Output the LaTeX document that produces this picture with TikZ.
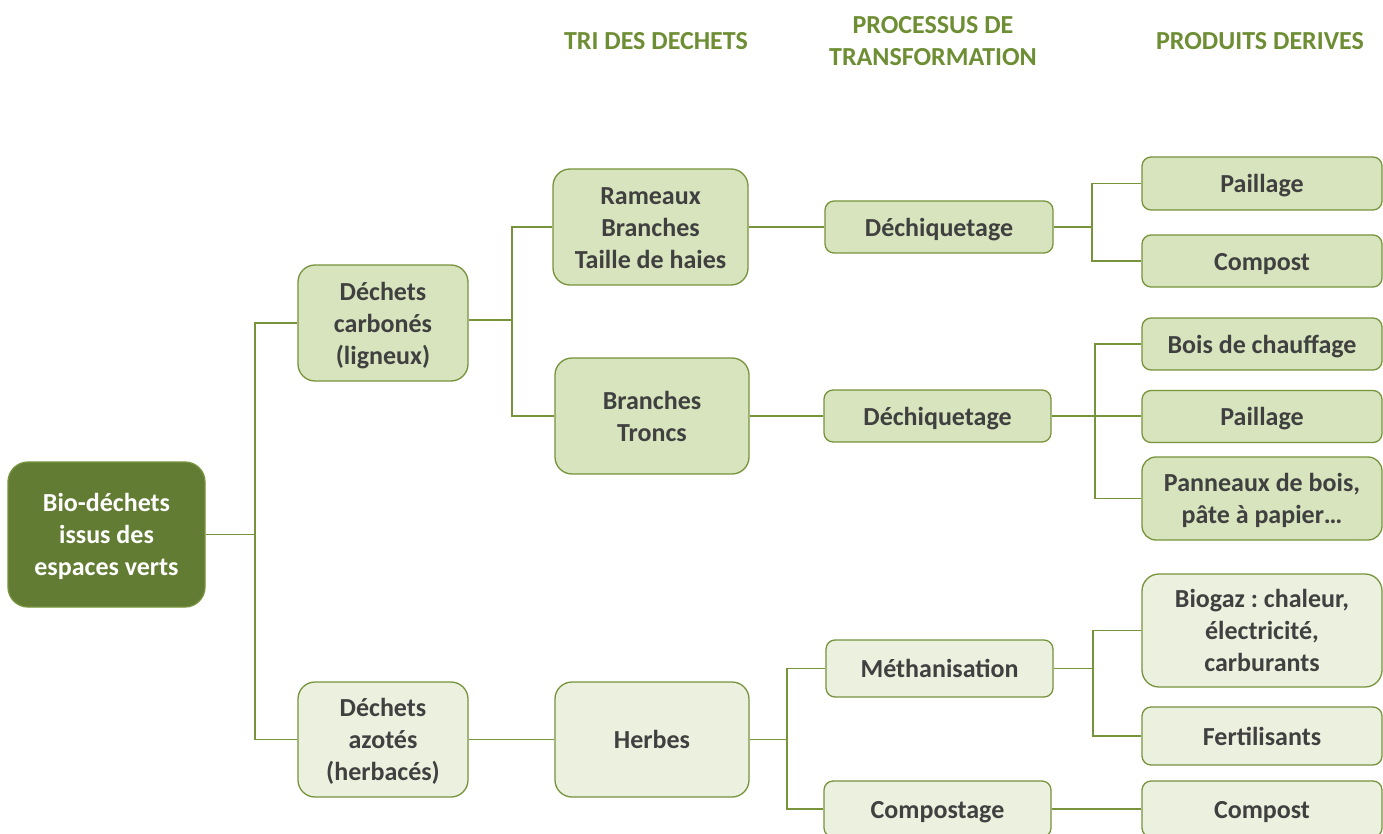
\documentclass[tikz,border=0pt]{standalone}
\usepackage{fontspec}
\setmainfont{Carlito}
\frenchspacing
\definecolor{rootfill}{HTML}{637C33}
\definecolor{darkfill}{HTML}{D7E4BD}
\definecolor{lightfill}{HTML}{EBF1DE}
\definecolor{edge}{HTML}{77933C}
\definecolor{txt}{HTML}{404040}
\definecolor{hdr}{HTML}{6E8E34}
\newcommand\boxtext[1]{\raisebox{-3pt}[\height][\depth]{\begin{tabular}{@{}c@{}}#1\end{tabular}}}
\tikzset{
  box/.style={draw=edge, line width=1.3pt, align=center, inner sep=0pt,
    font=\fontsize{26}{32}\selectfont\bfseries, text=txt},
  bigbox/.style={box, rounded corners=17pt},
  smallbox/.style={box, rounded corners=9pt},
  dk/.style={fill=darkfill},
  lt/.style={fill=lightfill},
  conn/.style={draw=edge, line width=1.4pt},
  header/.style={align=center, text=hdr, font=\fontsize{26}{32}\selectfont\bfseries},
}
\begin{document}
\begin{tikzpicture}[x=1pt,y=-1pt]
\clip (0,0) rectangle (1383,834);
\fill[white] (0,0) rectangle (1383,834);
% headers
\node[header] (h1) at (656,40) {\boxtext{TRI DES DECHETS}};
\node[header] (h2) at (933,40) {\boxtext{PROCESSUS DE\\TRANSFORMATION}};
\node[header] (h3) at (1260,40) {\boxtext{PRODUITS DERIVES}};
% nodes
\node[bigbox, fill=rootfill, text=white, rounded corners=20pt, minimum width=197pt, minimum height=145pt] (root) at (106.5,534.5) {\boxtext{Bio-déchets\\issus des\\espaces verts}};
\node[bigbox, dk, minimum width=170pt, minimum height=116pt] (carb) at (383,323) {\boxtext{Déchets\\carbonés\\(ligneux)}};
\node[bigbox, lt, minimum width=170pt, minimum height=115pt] (azot) at (383,739.5) {\boxtext{Déchets\\azotés\\(herbacés)}};
\node[bigbox, dk, minimum width=195pt, minimum height=116pt] (ram) at (650.5,227) {\boxtext{Rameaux\\Branches\\Taille de haies}};
\node[bigbox, dk, minimum width=194pt, minimum height=116pt] (tronc) at (652,416) {\boxtext{Branches\\Troncs}};
\node[bigbox, lt, minimum width=194pt, minimum height=115pt] (herb) at (652,739.5) {\boxtext{Herbes}};
\node[smallbox, dk, minimum width=228pt, minimum height=52pt] (dech1) at (939,227) {\boxtext{Déchiquetage}};
\node[smallbox, dk, minimum width=227pt, minimum height=52pt] (dech2) at (937.5,416) {\boxtext{Déchiquetage}};
\node[smallbox, lt, minimum width=227pt, minimum height=57pt] (meth) at (939.5,668.5) {\boxtext{Méthanisation}};
\node[smallbox, lt, minimum width=227pt, minimum height=56pt] (compg) at (937.5,809) {\boxtext{Compostage}};
\node[smallbox, dk, minimum width=240pt, minimum height=53pt] (pail1) at (1262,183.5) {\boxtext{Paillage}};
\node[smallbox, dk, minimum width=240pt, minimum height=52pt] (comp1) at (1262,261) {\boxtext{Compost}};
\node[smallbox, dk, minimum width=240pt, minimum height=52pt] (bois) at (1262,344) {\boxtext{Bois de chauffage}};
\node[smallbox, dk, minimum width=240pt, minimum height=52pt] (pail2) at (1262,416.5) {\boxtext{Paillage}};
\node[bigbox, dk, rounded corners=14pt, minimum width=240pt, minimum height=83pt] (pann) at (1262,498.5) {\boxtext{Panneaux de bois,\\pâte à papier…}};
\node[bigbox, lt, minimum width=240pt, minimum height=113pt] (biog) at (1262,630.5) {\boxtext{Biogaz : chaleur,\\électricité,\\carburants}};
\node[smallbox, lt, minimum width=240pt, minimum height=58pt] (fert) at (1262,736) {\boxtext{Fertilisants}};
\node[smallbox, lt, minimum width=240pt, minimum height=56pt] (comp3) at (1262,809) {\boxtext{Compost}};
% junctions
\coordinate (j1) at (255,534.5);
\coordinate (j2) at (512,320);
\coordinate (j3) at (787,739.5);
\coordinate (j4) at (1092,227);
\coordinate (j5) at (1095,416);
\coordinate (j6) at (1093,668.5);
% connectors
\draw[conn] (root.east) -- (j1);
\draw[conn] (carb.west) -| (j1) |- (azot.west);
\draw[conn] (carb.east |- j2) -- (j2);
\draw[conn] (ram.west) -| (j2) |- (tronc.west);
\draw[conn] (ram.east) -- (dech1.west);
\draw[conn] (tronc.east) -- (dech2.west);
\draw[conn] (azot.east) -- (herb.west);
\draw[conn] (herb.east) -- (j3);
\draw[conn] (meth.west) -| (j3) |- (compg.west);
\draw[conn] (dech1.east) -- (j4);
\draw[conn] (pail1.west) -| (j4) |- (comp1.west);
\draw[conn] (dech2.east) -- (dech2.east -| pail2.west);
\draw[conn] (bois.west) -| (j5) |- (pann.west);
\draw[conn] (meth.east) -- (j6);
\draw[conn] (biog.west) -| (j6) |- (fert.west);
\draw[conn] (compg.east) -- (comp3.west);
\end{tikzpicture}
\end{document}
